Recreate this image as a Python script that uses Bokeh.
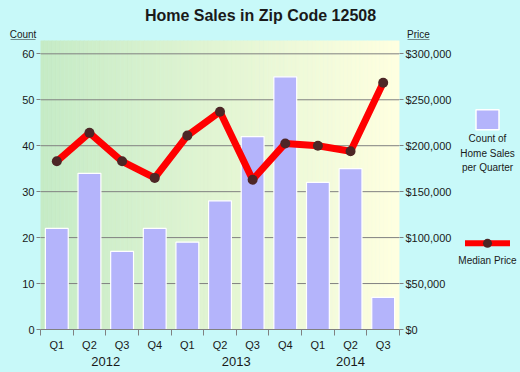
import numpy as np
from bokeh.plotting import figure
from bokeh.models import Range1d, LinearAxis, FixedTicker, NumeralTickFormatter
from bokeh.layouts import row, column
from bokeh.embed import file_html
from bokeh.resources import INLINE
from bokeh.core.properties import value

# ---- data ----
years = ["2012", "2012", "2012", "2012", "2013", "2013", "2013", "2013", "2014", "2014", "2014"]
quarters = ["Q1", "Q2", "Q3", "Q4", "Q1", "Q2", "Q3", "Q4", "Q1", "Q2", "Q3"]
sales_count = [22, 34, 17, 22, 19, 28, 42, 55, 32, 35, 7]
median_price = [183000, 214000, 183000, 165000, 211000, 237000, 163000, 202500, 200000, 194000, 268500]
count_ticks = [0, 10, 20, 30, 40, 50, 60]
price_ticks = [0, 50000, 100000, 150000, 200000, 250000, 300000]
legend_labels = ["Count of", "Home Sales", "per Quarter"]
title_text = "Home Sales in Zip Code 12508"

# ---- style ----
BG = "#c8f9f9"
BAR = "#b4b4fb"
DOT = "#4d2626"
GRID = "#808080"
TXT = "#1a1a1a"
FONT = "Liberation Sans"
Y_END = 62.9
PRICE_PER_COUNT = 5000
W, HEAD_H, MAIN_H, MAIN_W = 520, 40, 332, 454
LEG_W = W - MAIN_W

n = len(quarters)
xs = [i + 0.5 for i in range(n)]
bounds = list(range(n + 1))
year_names = sorted(set(years))
year_centers = [float(np.mean([xs[i] for i in range(n) if years[i] == y])) for y in year_names]


def panel(width, height):
    f = figure(width=width, height=height, x_range=Range1d(0, width), y_range=Range1d(height, 0),
               x_axis_type=None, y_axis_type=None, output_backend="svg", toolbar_location=None,
               min_border=0, background_fill_color=BG, border_fill_color=BG, outline_line_color=None)
    return f


# ---- header: title and axis captions ----
h = panel(W, HEAD_H)
h.text(x=[260], y=[15], text=[title_text], text_align="center", text_baseline="middle",
       text_font=value(FONT), text_font_size="16px", text_font_style="bold", text_color=TXT)
h.text(x=[22.5, 418], y=[34, 34], text=["Count", "Price"], text_align="center", text_baseline="middle",
       text_font=value(FONT), text_font_size="10px", text_color=TXT)
h.segment(x0=[10, 407], x1=[35, 429], y0=[39.5, 39.5], y1=[39.5, 39.5], line_color=TXT, line_width=1)

# ---- main chart ----
p = figure(width=MAIN_W, height=MAIN_H, x_range=Range1d(0, n), y_range=Range1d(0, Y_END),
           x_axis_type=None, y_axis_type=None, output_backend="svg", toolbar_location=None,
           min_border_left=40, min_border_right=54, min_border_top=0, min_border_bottom=43,
           background_fill_color=BG, border_fill_color=BG, outline_line_color=None)
p.extra_y_ranges = {"price": Range1d(0, Y_END * PRICE_PER_COUNT)}

# gradient background of the plot area (green -> pale yellow)
steps = 90
edges = np.linspace(0, n, steps + 1)
c0 = np.array([198, 235, 198])
c1 = np.array([255, 255, 224])
cols = []
for k in range(steps):
    t = k / (steps - 1)
    c = (c0 + (c1 - c0) * t).round().astype(int)
    cols.append("#%02x%02x%02x" % tuple(c))
p.quad(left=edges[:-1], right=edges[1:], bottom=0, top=Y_END, fill_color=cols, line_color=cols, line_width=0.6)

# grid lines
p.segment(x0=[0] * (len(count_ticks) - 1), x1=[n] * (len(count_ticks) - 1),
          y0=count_ticks[1:], y1=count_ticks[1:], line_color=GRID, line_width=1)

# bars
p.vbar(x=xs, top=sales_count, width=0.7, fill_color=BAR, line_color="white", line_width=1.2)

# median price line
p.line(xs, median_price, y_range_name="price", line_color="#ff0000", line_width=7, line_join="round")
p.scatter(xs, median_price, y_range_name="price", size=10, fill_color=DOT, line_color=None)

common = dict(major_label_text_font=FONT, major_label_text_color=TXT, major_label_text_font_size="11px")

yl = LinearAxis(ticker=FixedTicker(ticks=count_ticks), axis_line_color=None,
                major_tick_line_color=GRID, major_tick_out=4, major_tick_in=0,
                minor_tick_line_color=None, major_label_standoff=2, **common)
p.add_layout(yl, "left")

yr = LinearAxis(y_range_name="price", ticker=FixedTicker(ticks=price_ticks),
                formatter=NumeralTickFormatter(format="$0,0"), axis_line_color=None,
                major_tick_line_color=GRID, major_tick_out=4, major_tick_in=0,
                minor_tick_line_color=None, major_label_standoff=2, **common)
p.add_layout(yr, "right")

xq = LinearAxis(ticker=FixedTicker(ticks=xs, minor_ticks=bounds),
                major_label_overrides={x: q for x, q in zip(xs, quarters)},
                axis_line_color=GRID, major_tick_line_color=None, major_tick_out=0, major_tick_in=0,
                minor_tick_line_color=GRID, minor_tick_out=6, minor_tick_in=0,
                major_label_standoff=3, **common)
p.add_layout(xq, "below")

xy = LinearAxis(ticker=FixedTicker(ticks=year_centers),
                major_label_overrides={x: y for x, y in zip(year_centers, year_names)},
                axis_line_color=None, major_tick_line_color=None, major_tick_out=0, major_tick_in=0,
                minor_tick_line_color=None, major_label_standoff=3,
                major_label_text_font=FONT, major_label_text_color=TXT, major_label_text_font_size="13px")
p.add_layout(xy, "below")

# ---- legend panel ----
q = panel(LEG_W, MAIN_H)
cx = LEG_W / 2
q.rect(x=[cx], y=[91], width=23, height=23, fill_color=BAR, line_color="white", line_width=1.5)
q.text(x=[cx] * 3, y=[113, 130, 146], text=legend_labels, text_align="center", text_baseline="middle",
       text_font=value(FONT), text_font_size="10px", text_color=TXT)
q.line(x=[cx - 22.5, cx + 22.5], y=[233, 233], line_color="#ff0000", line_width=6)
q.scatter(x=[cx], y=[233], size=9, fill_color=DOT, line_color=None)
q.text(x=[cx], y=[253], text=["Median Price"], text_align="center", text_baseline="middle",
       text_font=value(FONT), text_font_size="10px", text_color=TXT)

layout = column(h, row(p, q, styles={"background-color": BG}), styles={"background-color": BG})
open("out.html", "w").write(file_html(layout, INLINE))
